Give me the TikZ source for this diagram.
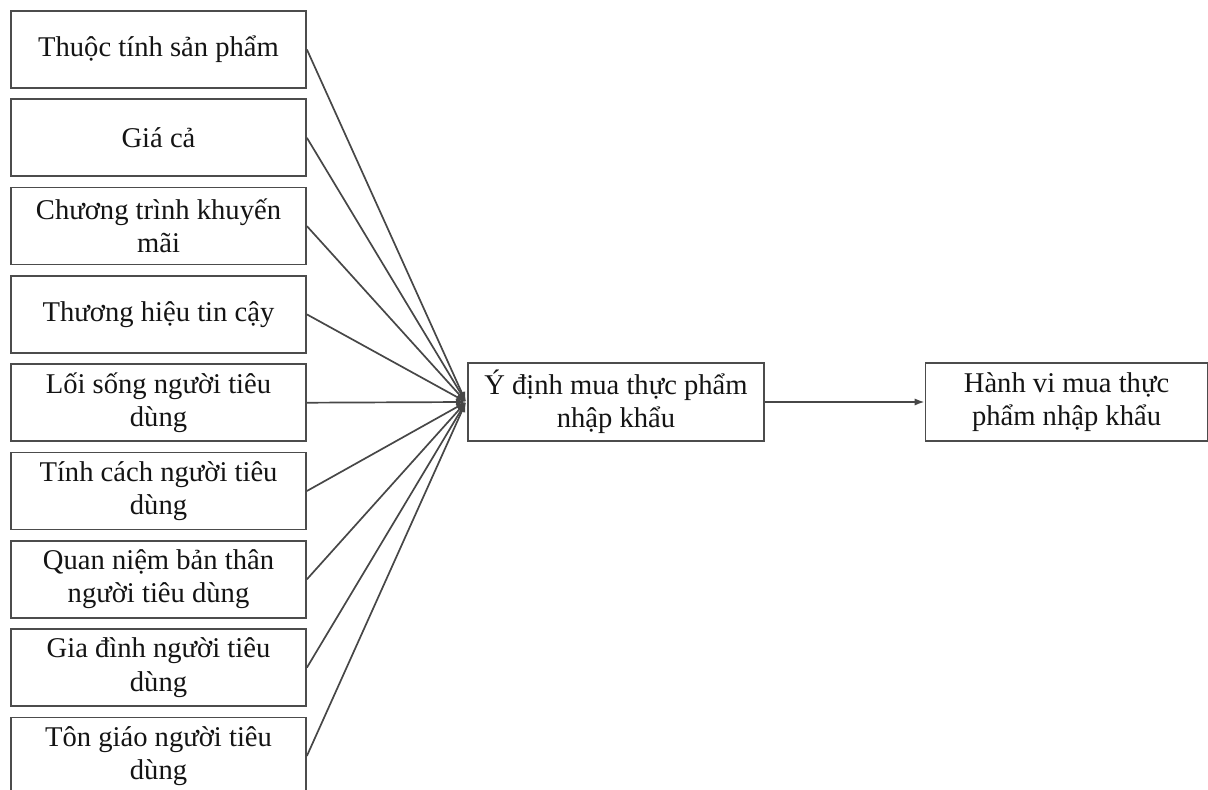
\documentclass[tikz,border=0pt]{standalone}
\usepackage{fontspec}
\setmainfont{Liberation Serif}
\usetikzlibrary{arrows.meta}
\begin{document}
\begin{tikzpicture}[x=0.5pt,y=-0.5pt,
  box/.style={draw=black!70, line width=0.9pt, fill=white, align=center, inner sep=0pt,
    minimum width=147.5pt, minimum height=38.5pt,
    font=\fontsize{14.3}{16.6}\selectfont, text=black!92},
  link/.style={draw=black!72, line width=0.85pt, -{Latex[length=5pt,width=3.6pt]}}
]
\useasboundingbox (0,0) rectangle (1208,790);
\node[box] (f1) at (158.5,49.5) {Thuộc tính sản phẩm};
\node[box] (f2) at (158.5,137.8) {Giá cả};
\node[box] (f3) at (158.5,226.1) {Chương trình khuyến\\mãi};
\node[box] (f4) at (158.5,314.4) {Thương hiệu tin cậy};
\node[box] (f5) at (158.5,402.7) {Lối sống người tiêu\\dùng};
\node[box] (f6) at (158.5,491.0) {Tính cách người tiêu\\dùng};
\node[box] (f7) at (158.5,579.3) {Quan niệm bản thân\\người tiêu dùng};
\node[box] (f8) at (158.5,667.6) {Gia đình người tiêu\\dùng};
\node[box] (f9) at (158.5,755.9) {Tôn giáo người tiêu\\dùng};
\node[box, minimum width=148pt, minimum height=39pt] (mid) at (616,402) {Ý định mua thực phẩm\\nhập khẩu};
\node[box, minimum width=141pt, minimum height=39pt] (out) at (1066.5,402) {Hành vi mua thực\\phẩm nhập khẩu};
\coordinate (conv) at (466,402);
\foreach \i in {1,...,9} {\draw[link] (f\i.east) -- (conv);}
\draw[link] (mid.east) -- (out.west);
\end{tikzpicture}
\end{document}
